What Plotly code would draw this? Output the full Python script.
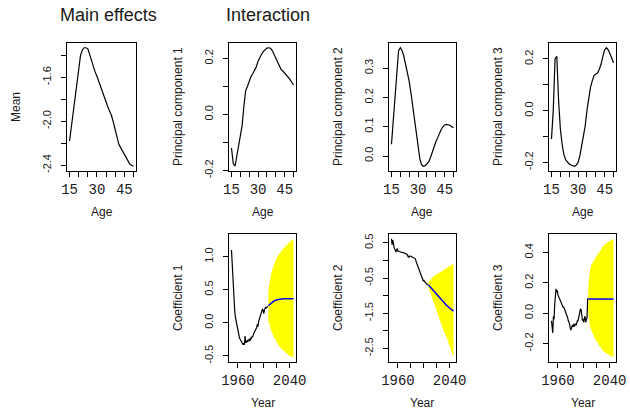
import plotly.graph_objects as go

# ---------------- data ----------------
ages = list(range(15, 51))
mean_effect = [-2.18, -2.05, -1.90, -1.75, -1.61, -1.48, -1.40, -1.35, -1.33, -1.33,
               -1.34, -1.39, -1.45, -1.51, -1.55, -1.59, -1.64, -1.68, -1.73, -1.78,
               -1.82, -1.87, -1.91, -1.95, -2.01, -2.08, -2.15, -2.21, -2.24, -2.27,
               -2.30, -2.34, -2.37, -2.39, -2.40, -2.41]
pc1 = [-0.12, -0.175, -0.185, -0.15, -0.11, -0.07, -0.04, 0.03, 0.085, 0.10,
       0.12, 0.135, 0.145, 0.155, 0.17, 0.19, 0.205, 0.215, 0.225, 0.232,
       0.237, 0.238, 0.236, 0.228, 0.215, 0.20, 0.185, 0.17, 0.16, 0.155,
       0.148, 0.14, 0.132, 0.125, 0.115, 0.105]
pc2 = [0.04, 0.12, 0.20, 0.30, 0.36, 0.37, 0.36, 0.34, 0.315, 0.29,
       0.255, 0.215, 0.17, 0.125, 0.075, 0.025, -0.01, -0.03, -0.035, -0.033,
       -0.028, -0.02, -0.005, 0.015, 0.033, 0.048, 0.062, 0.077, 0.09, 0.10,
       0.106, 0.108, 0.107, 0.105, 0.10, 0.097]
pc3 = [-0.11, 0.0, 0.20, 0.21, 0.04, -0.07, -0.13, -0.17, -0.19, -0.20,
       -0.206, -0.21, -0.213, -0.215, -0.21, -0.20, -0.175, -0.14, -0.105, -0.06,
       0.0, 0.05, 0.09, 0.115, 0.135, 0.142, 0.145, 0.16, 0.18, 0.21,
       0.235, 0.243, 0.235, 0.22, 0.20, 0.185]

years = list(range(1950, 2007))
coef1 = [1.10, 0.88, 0.65, 0.45, 0.30, 0.18, 0.09, 0.03, -0.03, -0.09,
         -0.14, -0.18, -0.21, -0.24, -0.26, -0.28, -0.30, -0.32, -0.33, -0.31,
         -0.33, -0.20, -0.30, -0.29, -0.27, -0.28, -0.26, -0.27, -0.25, -0.26,
         -0.23, -0.24, -0.20, -0.21, -0.17, -0.15, -0.13, -0.10, -0.08, -0.07,
         -0.02, -0.06, 0.02, 0.05, 0.08, 0.12, 0.15, 0.19, 0.21, 0.18,
         0.14, 0.20, 0.23, 0.24, 0.22, 0.24, 0.25]
coef2 = [0.62, 0.45, 0.58, 0.42, 0.38, 0.33, 0.28, 0.24, 0.30, 0.34,
         0.27, 0.26, 0.25, 0.25, 0.24, 0.24, 0.23, 0.23, 0.22, 0.22,
         0.22, 0.21, 0.20, 0.19, 0.18, 0.14, 0.10, 0.12, 0.11, 0.13,
         0.12, 0.11, 0.10, 0.11, 0.10, 0.08, 0.07, 0.05, -0.02, -0.07,
         -0.12, -0.18, -0.24, -0.29, -0.34, -0.40, -0.44, -0.47, -0.50, -0.57,
         -0.56, -0.60, -0.62, -0.64, -0.66, -0.69, -0.70]
coef3 = [-0.05, -0.12, -0.13, -0.02, -0.04, 0.06, 0.10, 0.16, 0.14, 0.15,
         0.12, 0.11, 0.09, 0.09, 0.07, 0.06, 0.06, 0.05, 0.04, 0.04,
         0.03, 0.01, 0.0, -0.01, -0.02, -0.03, -0.05, -0.06, -0.07, -0.10,
         -0.11, -0.10, -0.08, -0.09, -0.07, -0.09, -0.08, -0.07, -0.08, -0.06,
         -0.05, -0.05, -0.03, -0.01, 0.01, 0.03, 0.02, -0.01, -0.05, -0.04,
         -0.06, -0.03, -0.02, -0.06, -0.04, -0.03, 0.10]

fyears = [2007, 2008, 2010, 2012, 2015, 2018, 2021, 2025, 2030, 2035, 2040, 2046]
f1_mean = [0.26, 0.27, 0.29, 0.305, 0.325, 0.34, 0.35, 0.358, 0.362, 0.364, 0.365, 0.365]
f1_up = [0.48, 0.56, 0.67, 0.76, 0.86, 0.94, 1.00, 1.06, 1.12, 1.17, 1.22, 1.27]
f1_lo = [0.04, 0.0, -0.08, -0.13, -0.20, -0.26, -0.31, -0.37, -0.42, -0.46, -0.50, -0.52]
f2_mean = [-0.69, -0.71, -0.76, -0.80, -0.87, -0.93, -1.00, -1.08, -1.17, -1.27, -1.35, -1.44]
f2_up = [-0.60, -0.58, -0.54, -0.50, -0.46, -0.42, -0.385, -0.34, -0.28, -0.23, -0.17, -0.09]
f2_lo = [-0.76, -0.84, -0.95, -1.06, -1.21, -1.36, -1.50, -1.71, -1.96, -2.17, -2.40, -2.75]
f3_mean = [0.093] * 12
f3_up = [0.19, 0.24, 0.29, 0.32, 0.345, 0.368, 0.385, 0.41, 0.44, 0.46, 0.476, 0.49]
f3_lo = [-0.01, -0.05, -0.09, -0.115, -0.148, -0.175, -0.195, -0.222, -0.249, -0.266, -0.277, -0.29]

age_ticks = list(range(15, 51, 5))
age_labels = ["15", "", "", "30", "", "", "45", ""]
year_ticks = [1960, 1980, 2000, 2020, 2040]
year_labels = ["1960", "", "", "", "2040"]

# ---------------- layout geometry (pixels) ----------------
W, H = 630, 413
cols = [(67, 136), (229, 296), (389, 456), (549, 616)]
rows = [(43, 171), (234, 362)]

def xd(c):
    return [c[0] / W, c[1] / W]

def yd(r):
    return [1 - r[1] / H, 1 - r[0] / H]

def rng(*series):
    vals = [v for s in series for v in s]
    lo, hi = min(vals), max(vals)
    p = 0.04 * (hi - lo)
    return [lo - p, hi + p]

fig = go.Figure()
BLACK = "#000000"
TXT = "#1a1a1a"

panels = [
    (0, 0, "age", "Mean", [-2.4, -2.2, -2.0, -1.8, -1.6, -1.4], ["-2.4", "", "-2.0", "", "-1.6", ""]),
    (1, 0, "age", "Principal component 1", [-0.2, -0.1, 0.0, 0.1, 0.2], ["-0.2", "", "0.0", "", "0.2"]),
    (2, 0, "age", "Principal component 2", [0.0, 0.1, 0.2, 0.3], ["0.0", "0.1", "0.2", "0.3"]),
    (3, 0, "age", "Principal component 3", [-0.2, -0.1, 0.0, 0.1, 0.2], ["-0.2", "", "0.0", "", "0.2"]),
    (1, 1, "year", "Coefficient 1", [-0.5, 0.0, 0.5, 1.0], ["-0.5", "0.0", "0.5", "1.0"]),
    (2, 1, "year", "Coefficient 2", [-2.5, -2.0, -1.5, -1.0, -0.5, 0.0, 0.5], ["-2.5", "", "-1.5", "", "-0.5", "", "0.5"]),
    (3, 1, "year", "Coefficient 3", [-0.2, 0.0, 0.2, 0.4], ["-0.2", "0.0", "0.2", "0.4"]),
]

age_series = [mean_effect, pc1, pc2, pc3]
coef_series = [(coef1, f1_mean, f1_up, f1_lo), (coef2, f2_mean, f2_up, f2_lo), (coef3, f3_mean, f3_up, f3_lo)]

annotations = []
for i, (c, r, xt, ytitle, yt, yl) in enumerate(panels):
    n = i + 1
    xa = "x" if n == 1 else f"x{n}"
    ya = "y" if n == 1 else f"y{n}"
    if xt == "age":
        s = age_series[i]
        fig.add_trace(go.Scatter(x=ages, y=s, mode="lines", line=dict(color=BLACK, width=1.2),
                                 xaxis=xa, yaxis=ya, showlegend=False, hoverinfo="skip"))
        xr = rng(ages)
        yr = rng(s)
        xtv, xtt, xtitle = age_ticks, age_labels, "Age"
    else:
        obs, fm, fu, fl = coef_series[i - 4]
        fig.add_trace(go.Scatter(x=fyears + fyears[::-1], y=fu + fl[::-1], mode="lines",
                                 fill="toself", fillcolor="#FFFF00", line=dict(width=0, color="#FFFF00"),
                                 xaxis=xa, yaxis=ya, showlegend=False, hoverinfo="skip"))
        fig.add_trace(go.Scatter(x=years, y=obs, mode="lines", line=dict(color=BLACK, width=1.2),
                                 xaxis=xa, yaxis=ya, showlegend=False, hoverinfo="skip"))
        fig.add_trace(go.Scatter(x=fyears, y=fm, mode="lines", line=dict(color="#0000FF", width=1.5),
                                 xaxis=xa, yaxis=ya, showlegend=False, hoverinfo="skip"))
        xr = rng(years, fyears)
        yr = rng(obs, fu, fl)
        xtv, xtt, xtitle = year_ticks, year_labels, "Year"

    common = dict(showline=True, mirror=True, linecolor=BLACK, linewidth=1, showgrid=False,
                  zeroline=False, ticks="outside", ticklen=5, tickwidth=1, tickcolor=BLACK,
                  automargin=False)
    fig.layout[("xaxis" if n == 1 else f"xaxis{n}")] = dict(
        domain=xd(cols[c]), range=xr, anchor=ya, tickmode="array", tickvals=xtv, ticktext=xtt,
        tickfont=dict(family="Liberation Mono", size=14, color=TXT), **common)
    fig.layout[("yaxis" if n == 1 else f"yaxis{n}")] = dict(
        domain=yd(rows[r]), range=yr, anchor=xa, tickmode="array", tickvals=yt, ticktext=yl,
        tickangle=-90, ticklabelstandoff=6,
        tickfont=dict(family="Liberation Sans", size=11, color=TXT), **common)

    x0, x1 = cols[c]
    y0, y1 = rows[r]
    annotations.append(dict(text=ytitle, x=(x0 - 51) / W, y=1 - (y0 + y1) / 2 / H, xref="paper", yref="paper",
                            textangle=-90, showarrow=False, xanchor="center", yanchor="middle",
                            font=dict(family="Liberation Sans", size=12, color=TXT)))
    annotations.append(dict(text=xtitle, x=(x0 + x1) / 2 / W, y=1 - (y1 + 41) / H, xref="paper", yref="paper",
                            showarrow=False, xanchor="center", yanchor="middle",
                            font=dict(family="Liberation Sans", size=12, color=TXT)))

annotations.append(dict(text="Main effects", x=108 / W, y=1 - 15 / H, xref="paper", yref="paper",
                        showarrow=False, xanchor="center", yanchor="middle",
                        font=dict(family="Liberation Sans", size=18, color=TXT)))
annotations.append(dict(text="Interaction", x=268 / W, y=1 - 15 / H, xref="paper", yref="paper",
                        showarrow=False, xanchor="center", yanchor="middle",
                        font=dict(family="Liberation Sans", size=18, color=TXT)))

fig.update_layout(width=W, height=H, margin=dict(l=0, r=0, t=0, b=0),
                  paper_bgcolor="white", plot_bgcolor="white", annotations=annotations)

fig.write_html("out.html", config={"displayModeBar": False, "staticPlot": True},
               post_script="document.body.style.margin='0';document.body.style.overflow='hidden';")
